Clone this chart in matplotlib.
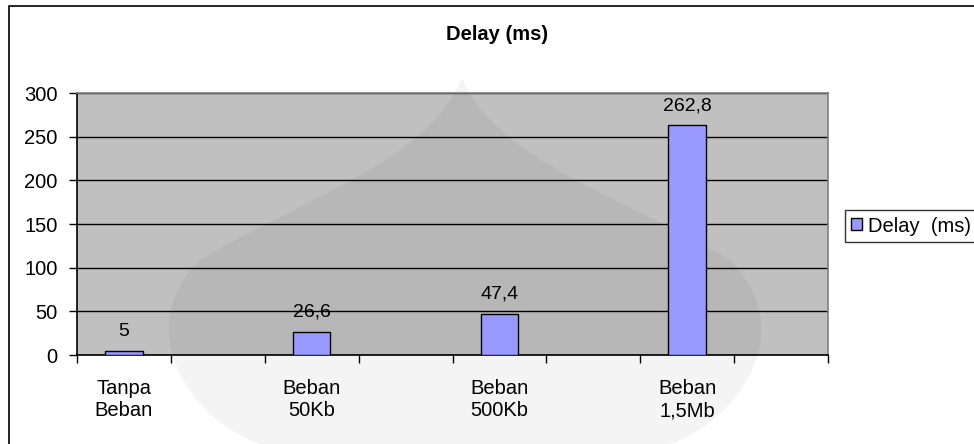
import matplotlib.pyplot as plt
from matplotlib.patches import Rectangle, PathPatch
from matplotlib.path import Path

plt.rcParams['font.family'] = ['Liberation Sans', 'DejaVu Sans']

# data
categories = ["Tanpa\nBeban", "", "Beban\n50Kb", "", "Beban\n500Kb", "", "Beban\n1,5Mb", ""]
delay = [5, None, 26.6, None, 47.4, None, 262.8, None]
value_labels = ["5", "", "26,6", "", "47,4", "", "262,8", ""]
y_ticks = [0, 50, 100, 150, 200, 250, 300]

W, H = 974, 444
fig = plt.figure(figsize=(W / 100, H / 100), dpi=100)
fig.patch.set_facecolor("white")

# outer chart frame
fig.patches.append(Rectangle((9 / W, -0.1), 1.1, 1 - 6 / H + 0.1,
                             transform=fig.transFigure, fill=False,
                             edgecolor="black", linewidth=1.2, zorder=0))

ax = fig.add_axes([77 / W, 1 - 355 / H, (828 - 77) / W, (355 - 93) / H])
ax.set_facecolor("#c0c0c0")


# faint watermark dome behind the chart (pixel coords -> figure coords)
def px(x, y):
    return (x / W, 1 - y / H)


dome = [(462, 78), (430, 160), (300, 200), (200, 260),
        (130, 330), (190, 420), (260, 444),
        (670, 444), (740, 420), (800, 330),
        (730, 260), (630, 200), (495, 160), (462, 78)]
codes = [Path.MOVETO, Path.CURVE4, Path.CURVE4, Path.CURVE4,
         Path.CURVE4, Path.CURVE4, Path.CURVE4,
         Path.LINETO, Path.CURVE4, Path.CURVE4, Path.CURVE4,
         Path.CURVE4, Path.CURVE4, Path.CURVE4]
ax.add_patch(PathPatch(Path([px(*p) for p in dome], codes),
                       transform=fig.transFigure, facecolor="black",
                       edgecolor="none", alpha=0.045, zorder=0.3,
                       clip_on=False))

xs = [i for i, v in enumerate(delay) if v is not None]
vals = [v for v in delay if v is not None]
labs = [value_labels[i] for i in xs]
bars = ax.bar(xs, vals, width=0.4, color="#9999ff", edgecolor="black",
              linewidth=1, zorder=3, label="Delay (ms)")

for x, v, t in zip(xs, vals, labs):
    ax.annotate(t, (x, v), xytext=(0, 8), textcoords="offset points",
                ha="center", va="bottom", fontsize=14)

ax.set_xlim(-0.5, len(categories) - 0.5)
ax.set_ylim(0, 300)
ax.set_yticks(y_ticks)
ax.tick_params(axis="y", labelsize=14.5, length=6, width=1, direction="out",
               pad=8)
ax.yaxis.grid(True, color="black", linewidth=1)
ax.set_axisbelow(True)

# category ticks between slots, labels centered in slots
ax.set_xticks([i - 0.5 for i in range(len(categories) + 1)])
ax.set_xticklabels([])
ax.set_xticks(range(len(categories)), minor=True)
ax.set_xticklabels(categories, minor=True, fontsize=14.5, linespacing=1.25)
ax.tick_params(axis="x", which="major", length=6, width=1, direction="out")
ax.tick_params(axis="x", which="minor", length=0, pad=17)

ax.spines["left"].set_color("black")
ax.spines["bottom"].set_color("black")
ax.spines["top"].set_color("#808080")
ax.spines["right"].set_color("#808080")
for s in ax.spines.values():
    s.set_linewidth(1.2)

fig.text(497 / W, 1 - 35 / H, "Delay (ms)", ha="center", va="center",
         fontsize=14.5, fontweight="bold")

leg = fig.legend(handles=[bars], labels=["Delay  (ms)"], loc="center left",
                 bbox_to_anchor=(845 / W, 1 - 226 / H), fontsize=14.5,
                 frameon=True, fancybox=False, edgecolor="black",
                 handlelength=0.55, handleheight=0.55, handletextpad=0.3,
                 borderpad=0.3, borderaxespad=0)
leg.get_frame().set_linewidth(1)

fig.savefig("out.png", dpi=100)
